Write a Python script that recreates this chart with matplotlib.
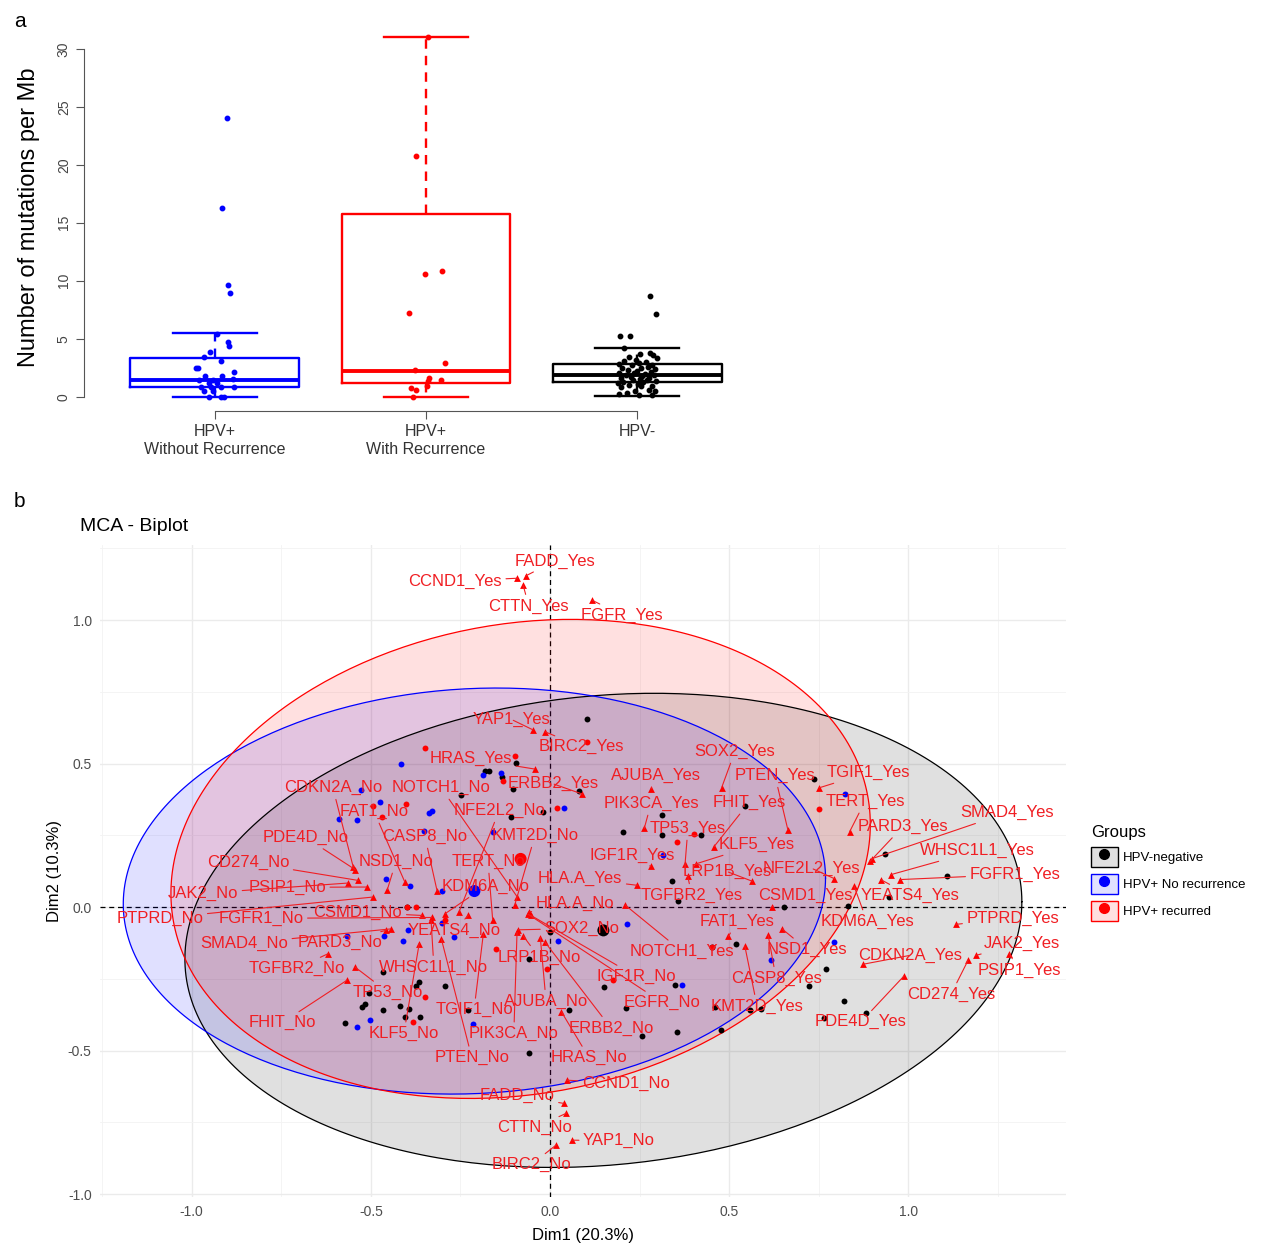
import numpy as np
import matplotlib
matplotlib.use('Agg')
import matplotlib.pyplot as plt
from matplotlib.patches import Patch
from matplotlib.lines import Line2D

plt.rcParams['font.family'] = ['Liberation Sans', 'DejaVu Sans']

# ---------------- panel a : mutations per Mb ----------------
groups = ['HPV+\nWithout Recurrence', 'HPV+\nWith Recurrence', 'HPV-']
group_colors = ['blue', 'red', 'black']
q1 = [0.86, 1.21, 1.29]
med = [1.44, 2.21, 1.87]
q3 = [3.37, 15.73, 2.79]
whisk_lo = [0.0, 0.0, 0.09]
whisk_hi = [5.46, 31.0, 4.17]

tmb_norec = [24.0, 16.3, 9.6, 8.9, 5.4, 4.75, 4.4, 3.85, 3.45, 3.1, 2.5, 2.5, 2.13, 1.8, 1.75,
             1.45, 1.45, 1.5, 1.15, 1.15, 0.86, 0.86, 0.8, 0.82, 0.45, 0.5, 0.0, 0.0, 0.0]
jit_norec = [0.057, 0.034, 0.062, 0.069, 0.009, 0.062, 0.067, -0.025, -0.053, 0.030, -0.092, -0.080,
             0.090, -0.048, 0.032, -0.076, -0.007, 0.085, -0.030, 0.009, -0.064, -0.018, 0.028, 0.090,
             -0.053, -0.007, -0.030, 0.028, 0.044]
tmb_rec = [31.0, 20.8, 10.85, 10.55, 7.2, 2.9, 2.3, 1.6, 1.44, 1.35, 0.92, 0.72, 0.58, 0.0]
jit_rec = [0.007, -0.046, 0.074, -0.005, -0.080, 0.092, -0.053, 0.016, 0.069, 0.009, 0.005, -0.071,
           -0.046, -0.060]
tmb_neg = [8.7, 7.15, 5.2, 5.25, 4.2, 3.75, 3.7, 3.6, 3.4, 3.3, 3.2, 3.1, 3.0, 2.9, 2.8, 2.75, 2.7,
           2.6, 2.5, 2.45, 2.4, 2.3, 2.2, 2.1, 2.05, 2.0, 1.95, 1.9, 1.85, 1.8, 1.7, 1.65, 1.6, 1.5,
           1.45, 1.4, 1.35, 1.3, 1.25, 1.2, 1.1, 1.0, 0.95, 0.9, 0.8, 0.6, 0.5, 0.45, 0.3, 0.2, 0.15, 0.1]
jit_neg = [0.062, 0.090, -0.080, -0.034, -0.060, 0.062, 0.015, 0.075, -0.040, 0.092,
           -0.005, -0.062, 0.040, 0.010, -0.085, 0.070, -0.025, 0.050, -0.070, 0.020,
           0.085, -0.045, 0.000, 0.065, -0.015, -0.088, 0.035, -0.055, 0.080, 0.025,
           -0.030, 0.058, -0.075, 0.012, 0.045, -0.020, 0.088, -0.065, 0.030, -0.090,
           0.005, -0.040, 0.072, 0.020, -0.078, 0.055, -0.010, 0.085, -0.050, -0.088,
           0.010, 0.070]

# ---------------- panel b : MCA biplot ----------------
neg_x = [0.102, -0.095, -0.181, -0.169, -0.135, -0.104, 0.082, -0.248, -0.110, -0.019, 0.203, 0.313,
         0.313, 0.421, 0.340, 0.358, 0.544, 0.738, 0.936, 1.107, 0.946, 0.831, 0.654, 0.519, 0.451,
         0.770, 0.723, 0.821, 0.881, 0.765, 0.589, 0.558, 0.460, 0.478, 0.000, -0.400, -0.465, -0.365,
         -0.374, -0.292, -0.504, -0.526, -0.517, -0.465, -0.420, -0.393, -0.405, -0.363, -0.572,
         -0.228, -0.059, -0.059, 0.054, 0.152, 0.211, 0.258, 0.354, 0.349]
neg_y = [0.655, 0.501, 0.475, 0.475, 0.455, 0.412, 0.403, 0.392, 0.313, 0.330, 0.263, 0.322, 0.252,
         0.250, 0.090, 0.023, 0.354, 0.448, 0.186, 0.110, 0.037, 0.005, 0.000, -0.128, -0.139, -0.214,
         -0.275, -0.328, -0.368, -0.388, -0.354, -0.359, -0.348, -0.427, -0.087, 0.002, -0.226, -0.261,
         -0.276, -0.276, -0.299, -0.348, -0.339, -0.357, -0.345, -0.355, -0.383, -0.383, -0.403,
         -0.357, -0.182, -0.510, -0.359, -0.278, -0.351, -0.450, -0.435, -0.272]
nr_x = [-0.417, -0.186, -0.138, -0.528, -0.474, -0.337, -0.330, -0.588, -0.538, 0.039, -0.352, -0.158,
        0.316, 0.823, -0.458, -0.391, -0.301, -0.302, -0.397, -0.462, -0.411, -0.566, -0.267, 0.021,
        0.214, -0.502, -0.538, -0.216, 0.368, 0.794, 0.616]
nr_y = [0.499, 0.462, 0.466, 0.407, 0.365, 0.329, 0.335, 0.307, 0.305, 0.346, 0.267, 0.263, 0.180,
        0.394, 0.099, 0.072, 0.056, -0.056, -0.079, -0.102, -0.119, -0.102, -0.104, -0.118, -0.060,
        -0.392, -0.417, -0.408, -0.272, -0.122, -0.183]
rec_x = [-0.349, 0.102, -0.097, -0.132, -0.495, -0.402, -0.468, 0.020, 0.402, 0.354, 0.751, -0.374,
         -0.400, -0.293, -0.152, -0.349, -0.383, -0.009, 0.175, 0.451]
rec_y = [0.554, 0.577, 0.528, 0.441, 0.354, 0.358, 0.313, 0.346, 0.255, 0.228, 0.342, 0.002, 0.002,
         -0.046, -0.145, -0.313, -0.400, -0.217, -0.255, -0.139]

mca_groups = ['HPV-negative', 'HPV+ No recurrence', 'HPV+ recurred']
mean_x = [0.149, -0.211, -0.082]
mean_y = [-0.081, 0.056, 0.168]
# concentration ellipses: half width, half height, shear of the y axis
ell_rx = [1.168, 0.980, 0.976]
ell_ry = [0.820, 0.706, 0.826]
ell_shear = [0.10, 0.045, 0.12]

cat_names = ['FADD_Yes', 'CCND1_Yes', 'CTTN_Yes', 'EGFR_Yes', 'YAP1_Yes', 'BIRC2_Yes', 'HRAS_Yes',
             'ERBB2_Yes', 'AJUBA_Yes', 'SOX2_Yes', 'PTEN_Yes', 'TGIF1_Yes', 'PIK3CA_Yes', 'FHIT_Yes',
             'KLF5_Yes', 'TP53_Yes', 'IGF1R_Yes', 'LRP1B_Yes', 'TGFBR2_Yes', 'HLA.A_Yes', 'NFE2L2_Yes',
             'CSMD1_Yes', 'YEATS4_Yes', 'KDM6A_Yes', 'TERT_Yes', 'PARD3_Yes', 'SMAD4_Yes', 'WHSC1L1_Yes',
             'FGFR1_Yes', 'FAT1_Yes', 'NSD1_Yes', 'CASP8_Yes', 'KMT2D_Yes', 'NOTCH1_Yes', 'PTPRD_Yes',
             'CDKN2A_Yes', 'CD274_Yes', 'JAK2_Yes', 'PSIP1_Yes', 'PDE4D_Yes',
             'CDKN2A_No', 'PDE4D_No', 'CD274_No', 'JAK2_No', 'PSIP1_No', 'PTPRD_No', 'NSD1_No', 'FAT1_No',
             'CASP8_No', 'NOTCH1_No', 'NFE2L2_No', 'KMT2D_No', 'TERT_No', 'KDM6A_No', 'CSMD1_No',
             'FGFR1_No', 'WHSC1L1_No', 'YEATS4_No', 'HLA.A_No', 'IGF1R_No', 'EGFR_No', 'SOX2_No',
             'PIK3CA_No', 'LRP1B_No', 'AJUBA_No', 'ERBB2_No', 'TGIF1_No', 'PTEN_No', 'KLF5_No',
             'SMAD4_No', 'PARD3_No', 'TGFBR2_No', 'TP53_No', 'FHIT_No', 'HRAS_No', 'CCND1_No',
             'FADD_No', 'CTTN_No', 'YAP1_No', 'BIRC2_No']
cat_x = [-0.068, -0.091, -0.075, 0.118, -0.048, -0.014, -0.042, 0.090, 0.282, 0.479, 0.664, 0.752,
         0.263, 0.458, 0.408, 0.377, 0.281, 0.565, 0.384, 0.244, 0.794, 0.620, 0.923, 0.849, 0.836,
         0.893, 0.899, 0.951, 0.977, 0.498, 0.647, 0.609, 0.544, 0.209, 1.133, 0.874, 1.167, 1.189,
         1.282, 0.988,
         -0.549, -0.544, -0.535, -0.563, -0.512, -0.495, -0.454, -0.405, -0.315, -0.091, -0.254,
         -0.098, -0.160, -0.293, -0.357, -0.330, -0.332, -0.228, -0.058, -0.053, -0.062, -0.089,
         -0.092, -0.075, -0.027, -0.014, -0.186, -0.303, -0.365, -0.445, -0.458, -0.619, -0.544,
         -0.567, 0.032, 0.047, 0.039, 0.046, 0.061, 0.017]
cat_y = [1.154, 1.146, 1.122, 1.069, 0.618, 0.611, 0.481, 0.394, 0.412, 0.416, 0.269, 0.416, 0.274,
         0.211, 0.151, 0.151, 0.142, 0.090, 0.110, 0.076, 0.099, 0.002, 0.096, 0.072, 0.262, 0.159,
         0.169, 0.113, 0.096, -0.102, -0.075, -0.098, -0.137, 0.008, -0.060, -0.199, -0.185, -0.168,
         -0.162, -0.240,
         0.139, 0.131, 0.093, 0.084, 0.070, 0.035, 0.061, 0.087, 0.056, 0.035, -0.017, 0.009, -0.044,
         -0.023, -0.029, -0.036, -0.046, -0.029, -0.017, -0.029, -0.024, -0.079, -0.088, -0.100,
         -0.106, -0.122, -0.093, -0.112, -0.127, -0.076, -0.081, -0.162, -0.209, -0.255, -0.365,
         -0.603, -0.684, -0.718, -0.812, -0.829]

# label placement (repelled positions, layout only)
label_pos = {
    'FADD_Yes': (0.014, 1.206), 'CCND1_Yes': (-0.265, 1.136), 'CTTN_Yes': (-0.059, 1.049),
    'EGFR_Yes': (0.201, 1.018), 'YAP1_Yes': (-0.106, 0.653), 'BIRC2_Yes': (0.087, 0.559),
    'HRAS_Yes': (-0.221, 0.517), 'ERBB2_Yes': (0.008, 0.430), 'AJUBA_Yes': (0.296, 0.458),
    'SOX2_Yes': (0.516, 0.542), 'PTEN_Yes': (0.628, 0.458), 'TGIF1_Yes': (0.888, 0.469),
    'PIK3CA_Yes': (0.282, 0.361), 'FHIT_Yes': (0.555, 0.364), 'KLF5_Yes': (0.578, 0.218),
    'TP53_Yes': (0.385, 0.274), 'IGF1R_Yes': (0.229, 0.180), 'LRP1B_Yes': (0.494, 0.124),
    'TGFBR2_Yes': (0.396, 0.041), 'HLA.A_Yes': (0.084, 0.100), 'NFE2L2_Yes': (0.731, 0.135),
    'CSMD1_Yes': (0.712, 0.041), 'YEATS4_Yes': (1.005, 0.041), 'KDM6A_Yes': (0.885, -0.050),
    'TERT_Yes': (0.879, 0.368), 'PARD3_Yes': (0.985, 0.281), 'SMAD4_Yes': (1.276, 0.329),
    'WHSC1L1_Yes': (1.192, 0.197), 'FGFR1_Yes': (1.298, 0.114), 'FAT1_Yes': (0.522, -0.050),
    'NSD1_Yes': (0.717, -0.147), 'CASP8_Yes': (0.631, -0.248), 'KMT2D_Yes': (0.578, -0.345),
    'NOTCH1_Yes': (0.368, -0.154), 'PTPRD_Yes': (1.292, -0.039), 'CDKN2A_Yes': (1.005, -0.168),
    'CD274_Yes': (1.119, -0.304), 'JAK2_Yes': (1.317, -0.126), 'PSIP1_Yes': (1.309, -0.220),
    'PDE4D_Yes': (0.868, -0.400),
    'CDKN2A_No': (-0.606, 0.416), 'PDE4D_No': (-0.681, 0.242), 'CD274_No': (-0.843, 0.156),
    'JAK2_No': (-0.969, 0.048), 'PSIP1_No': (-0.734, 0.069), 'PTPRD_No': (-1.089, -0.039),
    'NSD1_No': (-0.430, 0.159), 'FAT1_No': (-0.491, 0.333), 'CASP8_No': (-0.349, 0.246),
    'NOTCH1_No': (-0.304, 0.416), 'NFE2L2_No': (-0.142, 0.336), 'KMT2D_No': (-0.042, 0.249),
    'TERT_No': (-0.173, 0.159), 'KDM6A_No': (-0.181, 0.072), 'CSMD1_No': (-0.536, -0.018),
    'FGFR1_No': (-0.807, -0.039), 'WHSC1L1_No': (-0.324, -0.209), 'YEATS4_No': (-0.268, -0.081),
    'HLA.A_No': (0.070, 0.013), 'IGF1R_No': (0.240, -0.241), 'EGFR_No': (0.313, -0.332),
    'SOX2_No': (0.089, -0.074), 'PIK3CA_No': (-0.101, -0.441), 'LRP1B_No': (-0.031, -0.174),
    'AJUBA_No': (-0.011, -0.328), 'ERBB2_No': (0.170, -0.421), 'TGIF1_No': (-0.212, -0.358),
    'PTEN_No': (-0.218, -0.525), 'KLF5_No': (-0.408, -0.441), 'SMAD4_No': (-0.854, -0.126),
    'PARD3_No': (-0.586, -0.123), 'TGFBR2_No': (-0.706, -0.213), 'TP53_No': (-0.452, -0.297),
    'FHIT_No': (-0.748, -0.403), 'HRAS_No': (0.109, -0.525), 'CCND1_No': (0.212, -0.615),
    'FADD_No': (-0.092, -0.657), 'CTTN_No': (-0.042, -0.768), 'YAP1_No': (0.193, -0.814),
    'BIRC2_No': (-0.053, -0.898),
}

fig = plt.figure(figsize=(12.64, 12.47), dpi=100)

# ---- a ----
ax1 = fig.add_axes([0.0665, 0.6704, 0.5411, 0.3112])
stats = []
for i in range(3):
    stats.append(dict(med=med[i], q1=q1[i], q3=q3[i], whislo=whisk_lo[i], whishi=whisk_hi[i], fliers=[]))
for i in range(3):
    c = group_colors[i]
    ax1.bxp([stats[i]], positions=[i + 1], widths=0.8, capwidths=0.4, showfliers=False,
            boxprops=dict(color=c, lw=1.7), medianprops=dict(color=c, lw=2.8),
            whiskerprops=dict(color=c, lw=1.7, ls=(0, (4, 3))), capprops=dict(color=c, lw=1.7))
for i, (vals, jit) in enumerate([(tmb_norec, jit_norec), (tmb_rec, jit_rec), (tmb_neg, jit_neg)]):
    ax1.plot(np.array(jit) + i + 1, vals, 'o', color=group_colors[i], ms=3.2, zorder=5)
ax1.set_xlim(0.38, 3.62)
ax1.set_ylim(-1.24, 32.24)
for s in ['top', 'right']:
    ax1.spines[s].set_visible(False)
ax1.spines['left'].set_bounds(0, 30)
ax1.spines['bottom'].set_bounds(1, 3)
ax1.spines['left'].set_color('#555555')
ax1.spines['bottom'].set_color('#555555')
ax1.set_yticks(range(0, 31, 5))
ax1.set_yticklabels([str(v) for v in range(0, 31, 5)], rotation=90, va='center', fontsize=10, color='#444444')
ax1.set_xticks([1, 2, 3])
ax1.set_xticklabels(groups, fontsize=11.5, color='#333333', linespacing=1.25)
ax1.tick_params(axis='both', length=6, color='#555555')
ax1.set_ylabel('Number of mutations per Mb', fontsize=17, labelpad=12)
fig.text(0.011, 0.99, 'a', fontsize=15, va='top')

# ---- b ----
ax2 = fig.add_axes([0.0791, 0.0401, 0.7642, 0.5229])
ax2.set_xlim(-1.256, 1.44)
ax2.set_ylim(-1.01, 1.262)
ax2.set_xticks([-1.0, -0.5, 0.0, 0.5, 1.0])
ax2.set_xticks([-1.25, -0.75, -0.25, 0.25, 0.75, 1.25], minor=True)
ax2.set_yticks([-1.0, -0.5, 0.0, 0.5, 1.0])
ax2.set_yticks([-0.75, -0.25, 0.25, 0.75, 1.25], minor=True)
ax2.set_xticklabels(['-1.0', '-0.5', '0.0', '0.5', '1.0'])
ax2.set_yticklabels(['-1.0', '-0.5', '0.0', '0.5', '1.0'])
ax2.grid(which='major', color='#EBEBEB', lw=1.0)
ax2.grid(which='minor', color='#F3F3F3', lw=0.6)
ax2.set_axisbelow(True)
ax2.tick_params(which='both', length=0, labelsize=10, labelcolor='#4D4D4D', pad=6)
for s in ax2.spines.values():
    s.set_visible(False)
ax2.axhline(0, color='black', lw=0.9, ls=(0, (4, 3)), zorder=1)
ax2.axvline(0, color='black', lw=0.9, ls=(0, (4, 3)), zorder=1)

t = np.linspace(0, 2 * np.pi, 300)
ell_colors = ['black', 'blue', 'red']
for i in range(3):
    ex = mean_x[i] + ell_rx[i] * np.cos(t)
    ey = mean_y[i] + ell_ry[i] * np.sin(t) + ell_shear[i] * np.cos(t)
    ax2.fill(ex, ey, color=ell_colors[i], alpha=0.12, lw=0, zorder=2)
    ax2.plot(ex, ey, color=ell_colors[i], lw=0.9, zorder=2.5)

ax2.scatter(neg_x, neg_y, s=18, color='black', zorder=3, lw=0)
ax2.scatter(nr_x, nr_y, s=18, color='blue', zorder=3, lw=0)
ax2.scatter(rec_x, rec_y, s=18, color='red', zorder=3, lw=0)
ax2.scatter(mean_x, mean_y, s=75, color=ell_colors, zorder=3.5, lw=0)

ax2.scatter(cat_x, cat_y, marker='^', s=24, color='red', zorder=4, lw=0)
for name, px, py in zip(cat_names, cat_x, cat_y):
    lx, ly = label_pos[name]
    ax2.annotate(name, xy=(px, py), xytext=(lx, ly), textcoords='data', ha='center', va='center',
                 fontsize=12, color='#F01E23', zorder=5,
                 arrowprops=dict(arrowstyle='-', color='#F01E23', lw=0.8, shrinkA=1, shrinkB=0))

ax2.set_xlabel('Dim1 (20.3%)', fontsize=12, labelpad=6)
ax2.set_ylabel('Dim2 (10.3%)', fontsize=12, labelpad=4)
fig.text(0.063, 0.5774, 'MCA - Biplot', fontsize=14, va='center')
fig.text(0.011, 0.598, 'b', fontsize=15, va='center')

handles = []
for c in ell_colors:
    handles.append((Patch(facecolor=matplotlib.colors.to_rgba(c, 0.12), edgecolor=c, lw=1.0),
                    Line2D([], [], marker='o', color=c, ls='', ms=7)))
leg = fig.legend(handles, mca_groups, title='Groups', loc='upper left',
                 bbox_to_anchor=(1086 / 1264, 1 - 820 / 1247), frameon=False, fontsize=9.5,
                 title_fontsize=12, handlelength=2.0, handleheight=2.0, handletextpad=0.4,
                 labelspacing=0.5, alignment='left', borderaxespad=0)

fig.savefig('out.png', dpi=100)
